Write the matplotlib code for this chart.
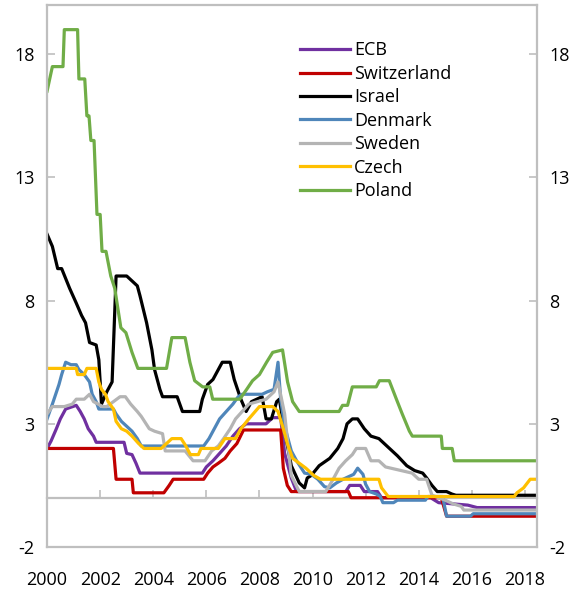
import matplotlib.pyplot as plt
import numpy as np

# policy rates (year, percent)
ecb_t = [2000.0, 2000.15, 2000.35, 2000.5, 2000.7, 2001.1, 2001.25, 2001.4, 2001.55, 2001.75, 2001.85,
         2002.9, 2003.0, 2003.2, 2003.35, 2003.5, 2005.85, 2006.0, 2006.25, 2006.5, 2006.75, 2007.0,
         2007.25, 2007.5, 2008.25, 2008.5, 2008.8, 2008.95, 2009.2, 2009.4, 2011.25, 2011.4, 2011.8,
         2011.95, 2012.45, 2012.6, 2014.45, 2014.6, 2014.75, 2015.85, 2016.2, 2018.45]
ecb_v = [2.0, 2.3, 2.8, 3.2, 3.6, 3.75, 3.5, 3.2, 2.8, 2.5, 2.25,
         2.25, 1.8, 1.75, 1.4, 1.0, 1.0, 1.25, 1.5, 1.8, 2.1, 2.5,
         2.8, 3.0, 3.0, 3.25, 3.25, 1.8, 0.8, 0.25, 0.25, 0.5, 0.5,
         0.25, 0.25, 0.0, 0.0, -0.1, -0.2, -0.3, -0.4, -0.4]

che_t = [2000.0, 2002.5, 2002.6, 2003.2, 2003.25, 2004.4, 2004.6, 2004.75, 2005.9, 2006.05, 2006.25,
         2006.45, 2006.7, 2006.9, 2007.15, 2007.4, 2008.8, 2008.9, 2009.05, 2009.2, 2011.35, 2011.45,
         2014.85, 2015.05, 2018.45]
che_v = [2.0, 2.0, 0.75, 0.75, 0.2, 0.2, 0.5, 0.75, 0.75, 1.0, 1.25,
         1.4, 1.6, 1.9, 2.2, 2.75, 2.75, 1.2, 0.5, 0.25, 0.25, 0.0,
         0.0, -0.75, -0.75]

isr_t = [2000.0, 2000.2, 2000.4, 2000.55, 2000.85, 2001.1, 2001.3, 2001.45, 2001.6, 2001.85, 2001.95,
         2002.05, 2002.25, 2002.45, 2002.52, 2002.6, 2003.0, 2003.2, 2003.4, 2003.5, 2003.75, 2003.95,
         2004.05, 2004.25, 2004.35, 2004.9, 2005.1, 2005.75, 2005.85, 2006.05, 2006.25, 2006.45, 2006.6,
         2006.9, 2007.05, 2007.3, 2007.5, 2007.7, 2008.1, 2008.25, 2008.45, 2008.65, 2008.75, 2008.95,
         2009.2, 2009.5, 2009.7, 2009.8, 2009.95, 2010.25, 2010.65, 2010.95, 2011.15, 2011.3, 2011.5,
         2011.7, 2011.95, 2012.2, 2012.5, 2012.8, 2013.0, 2013.2, 2013.55, 2013.85, 2014.15, 2014.3,
         2014.5, 2014.7, 2015.05, 2015.25, 2015.4, 2018.45]
isr_v = [10.7, 10.2, 9.3, 9.3, 8.5, 7.9, 7.4, 7.1, 6.3, 6.2, 5.6,
         3.8, 4.3, 4.7, 6.7, 9.0, 9.0, 8.8, 8.6, 8.2, 7.1, 6.0,
         5.2, 4.4, 4.1, 4.1, 3.5, 3.5, 4.0, 4.6, 4.8, 5.2, 5.5,
         5.5, 4.8, 4.0, 3.5, 3.9, 4.1, 3.2, 3.2, 3.9, 4.0, 2.7,
         1.3, 0.6, 0.4, 0.8, 0.9, 1.3, 1.6, 2.0, 2.4, 3.0, 3.2,
         3.2, 2.8, 2.5, 2.4, 2.1, 1.9, 1.7, 1.3, 1.1, 1.0, 0.8,
         0.5, 0.25, 0.25, 0.15, 0.1, 0.1]

dnk_t = [2000.0, 2000.2, 2000.45, 2000.55, 2000.7, 2000.9, 2001.1, 2001.2, 2001.4, 2001.6, 2001.7,
         2001.85, 2001.95, 2002.5, 2002.6, 2002.8, 2003.0, 2003.1, 2003.2, 2003.4, 2003.55, 2005.9,
         2006.1, 2006.3, 2006.5, 2006.75, 2007.0, 2007.2, 2007.35, 2008.1, 2008.3, 2008.55, 2008.7,
         2008.8, 2008.95, 2009.2, 2009.4, 2009.7, 2009.95, 2010.2, 2010.45, 2010.65, 2010.9, 2011.15,
         2011.35, 2011.55, 2011.7, 2011.9, 2012.0, 2012.15, 2012.4, 2012.55, 2012.65, 2013.05, 2013.2,
         2014.25, 2014.35, 2014.9, 2015.05, 2015.95, 2016.05, 2018.45]
dnk_v = [3.2, 3.8, 4.6, 5.0, 5.5, 5.4, 5.4, 5.2, 5.0, 4.7, 4.2,
         3.9, 3.6, 3.6, 3.4, 3.1, 2.9, 2.8, 2.7, 2.4, 2.1, 2.1,
         2.4, 2.8, 3.2, 3.5, 3.8, 4.1, 4.2, 4.2, 4.3, 4.4, 5.5,
         4.0, 2.9, 1.9, 1.5, 1.0, 0.95, 0.75, 0.45, 0.4, 0.6, 0.75,
         0.85, 0.95, 1.2, 0.95, 0.55, 0.25, 0.15, 0.05, -0.2, -0.2, -0.1,
         -0.1, 0.05, 0.05, -0.75, -0.75, -0.65, -0.65]

swe_t = [2000.0, 2000.2, 2000.65, 2000.95, 2001.1, 2001.4, 2001.6, 2001.75, 2002.1, 2002.25, 2002.75,
         2002.95, 2003.15, 2003.4, 2003.55, 2003.85, 2004.05, 2004.35, 2004.45, 2005.2, 2005.5, 2005.95,
         2006.2, 2006.45, 2006.65, 2006.9, 2007.1, 2007.35, 2007.6, 2008.25, 2008.55, 2008.7, 2008.95,
         2009.2, 2009.5, 2010.5, 2010.75, 2011.0, 2011.25, 2011.5, 2011.65, 2012.0, 2012.2, 2012.5,
         2012.75, 2013.75, 2014.0, 2014.3, 2014.5, 2014.75, 2015.0, 2015.3, 2015.6, 2015.7, 2018.45]
swe_v = [3.4, 3.7, 3.7, 3.8, 4.0, 4.0, 4.2, 3.9, 3.7, 3.7, 4.1,
         4.1, 3.8, 3.5, 3.3, 2.8, 2.7, 2.6, 1.9, 1.9, 1.5, 1.5,
         1.9, 2.1, 2.4, 2.8, 3.2, 3.5, 3.8, 4.0, 4.3, 4.7, 3.4,
         0.9, 0.25, 0.25, 0.7, 1.2, 1.5, 1.75, 2.0, 2.0, 1.5, 1.5,
         1.25, 1.0, 0.75, 0.75, 0.1, 0.0, -0.1, -0.25, -0.35, -0.5, -0.5]

cze_t = [2000.0, 2001.1, 2001.15, 2001.4, 2001.5, 2001.85, 2001.95, 2002.05, 2002.2, 2002.3, 2002.5,
         2002.6, 2002.8, 2003.0, 2003.2, 2003.45, 2003.65, 2004.3, 2004.5, 2004.7, 2005.05, 2005.2,
         2005.4, 2005.7, 2005.8, 2006.45, 2006.7, 2007.1, 2007.3, 2007.6, 2008.0, 2008.5, 2008.7,
         2008.9, 2009.05, 2009.25, 2009.5, 2009.75, 2010.05, 2010.3, 2012.5, 2012.6, 2012.85, 2017.6,
         2017.7, 2017.95, 2018.2, 2018.45]
cze_v = [5.25, 5.25, 5.0, 5.0, 5.25, 5.25, 4.7, 4.4, 4.2, 3.9, 3.6,
         3.1, 2.8, 2.7, 2.5, 2.2, 2.0, 2.0, 2.2, 2.4, 2.4, 2.15,
         1.75, 1.75, 2.0, 2.0, 2.4, 2.4, 2.8, 3.2, 3.7, 3.7, 3.5,
         2.8, 2.2, 1.6, 1.4, 1.2, 0.9, 0.75, 0.75, 0.4, 0.05, 0.05,
         0.2, 0.4, 0.75, 0.75]

pol_t = [2000.0, 2000.2, 2000.6, 2000.65, 2001.15, 2001.2, 2001.42, 2001.5, 2001.58, 2001.65, 2001.77,
         2001.88, 2002.0, 2002.07, 2002.22, 2002.4, 2002.55, 2002.78, 2002.97, 2003.2, 2003.42, 2004.5,
         2004.7, 2005.2, 2005.38, 2005.56, 2005.86, 2006.13, 2006.24, 2007.26, 2007.52, 2007.74, 2008.0,
         2008.27, 2008.5, 2008.87, 2009.06, 2009.25, 2009.5, 2011.0, 2011.13, 2011.32, 2011.5, 2012.4,
         2012.52, 2012.89, 2013.16, 2013.38, 2013.65, 2013.76, 2014.85, 2014.89, 2015.26, 2015.34, 2018.45]
pol_v = [16.5, 17.5, 17.5, 19.0, 19.0, 17.0, 17.0, 15.5, 15.5, 14.5, 14.5,
         11.5, 11.5, 10.0, 10.0, 9.0, 8.5, 6.9, 6.7, 5.9, 5.25, 5.25,
         6.5, 6.5, 5.5, 4.75, 4.5, 4.5, 4.0, 4.0, 4.4, 4.75, 5.0,
         5.5, 5.9, 6.0, 4.7, 3.9, 3.5, 3.5, 3.75, 3.75, 4.5, 4.5,
         4.75, 4.75, 4.0, 3.4, 2.7, 2.5, 2.5, 2.0, 2.0, 1.5, 1.5]

names = ['ECB', 'Switzerland', 'Israel', 'Denmark', 'Sweden', 'Czech', 'Poland']
series = [(ecb_t, ecb_v), (che_t, che_v), (isr_t, isr_v), (dnk_t, dnk_v),
          (swe_t, swe_v), (cze_t, cze_v), (pol_t, pol_v)]
colors = ['#7030A0', '#C00000', '#000000', '#4F86BA', '#B4B4B4', '#FFC000', '#70AD47']

plt.rcParams['font.family'] = ['Open Sans', 'DejaVu Sans']
plt.rcParams['axes.unicode_minus'] = False
grey = '#BFBFBF'

fig = plt.figure(figsize=(5.81, 5.89), dpi=100)
ax = fig.add_axes([0.081, 0.0713, 0.843, 0.9202])

for (t, v), c, n in zip(series, colors, names):
    ax.plot(t, v, color=c, lw=2.3, label=n, solid_joinstyle='round')

ax.set_xlim(2000, 2018.45)
ax.set_ylim(-2, 20)
ax.set_yticks([-2, 3, 8, 13, 18])
ax.set_xticks(np.arange(2000, 2019, 2))

for s in ax.spines.values():
    s.set_color(grey)
    s.set_linewidth(1.6)

ax.tick_params(axis='y', direction='in', length=6, width=1.2, color=grey,
               labelsize=13, right=True, labelright=True, pad=9)
ax.tick_params(axis='x', length=0, labelsize=13, pad=17)

# zero line carries the year tick marks
zero = ax.secondary_xaxis(2 / 22)
zero.set_xticks(np.arange(2000, 2019, 2))
zero.tick_params(direction='in', length=6, width=1.2, color=grey, labelbottom=False)
zero.spines['bottom'].set_color(grey)
zero.spines['bottom'].set_linewidth(1.6)

ax.legend(loc='upper left', bbox_to_anchor=(0.502, 0.946), frameon=False, fontsize=13,
          handlelength=2.75, handletextpad=0.25, labelspacing=0.3, borderaxespad=0)

fig.savefig('out.png', dpi=100)
